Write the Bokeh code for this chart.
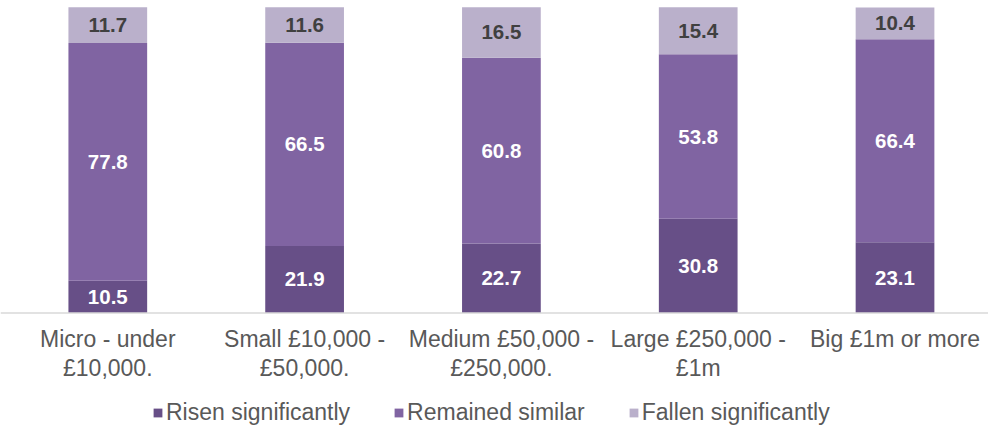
from bokeh.plotting import figure
from bokeh.models import ColumnDataSource, Range1d, Span, Legend, LegendItem
from bokeh.core.properties import value
from bokeh.embed import file_html
from bokeh.resources import INLINE

categories = ["Micro - under\n£10,000.", "Small £10,000 -\n£50,000.",
              "Medium £50,000 -\n£250,000.", "Large £250,000 -\n£1m",
              "Big £1m or more"]
risen = [10.5, 21.9, 22.7, 30.8, 23.1]
remained = [77.8, 66.5, 60.8, 53.8, 66.4]
fallen = [11.7, 11.6, 16.5, 15.4, 10.4]
series_names = ["Risen significantly", "Remained similar", "Fallen significantly"]
colors = ["#674F87", "#8064A2", "#BAB0CB"]
label_colors = ["#FFFFFF", "#FFFFFF", "#404040"]

FONT = "Liberation Sans"

xs = [i + 0.5 for i in range(len(categories))]
source = ColumnDataSource(dict(x=xs, risen=risen, remained=remained, fallen=fallen))

p = figure(width=988, height=431, output_backend="svg", toolbar_location=None,
           x_range=Range1d(-0.0452, 4.975), y_range=Range1d(-38.81, 102.22),
           min_border=0, min_border_left=0, min_border_right=0,
           min_border_top=0, min_border_bottom=0)
p.axis.visible = False
p.grid.visible = False
p.outline_line_color = None
p.background_fill_color = "white"
p.border_fill_color = "white"

renderers = p.vbar_stack(["risen", "remained", "fallen"], x="x", width=0.4,
                         color=colors, line_color=None, source=source)

# baseline axis line
p.add_layout(Span(location=0, dimension="width", line_color="#D9D9D9", line_width=1.5))

# value labels
stack = [risen, remained, fallen]
bottoms = [0.0] * len(categories)
for vals, tc in zip(stack, label_colors):
    mids = [b + v / 2 for b, v in zip(bottoms, vals)]
    texts = ["%.1f" % v for v in vals]
    p.text(x=xs, y=mids, text=texts, text_align="center", text_baseline="middle",
           text_font=value(FONT), text_font_style="bold", text_font_size="20.5px",
           text_color=tc)
    bottoms = [b + v for b, v in zip(bottoms, vals)]

# category labels
p.text(x=xs, y=[-4.45] * len(categories), text=categories, text_align="center",
       text_baseline="top", text_font=value(FONT), text_font_size="23px",
       text_color="#595959", text_line_height=1.1)

legend = Legend(items=[LegendItem(label=n, renderers=[r]) for n, r in zip(series_names, renderers)],
                orientation="horizontal", location=(152, 5),
                padding=0, margin=0, spacing=43, label_standoff=3,
                glyph_width=11, glyph_height=11, label_height=23,
                label_text_font=FONT, label_text_font_size="23px",
                label_text_color="#595959",
                border_line_color=None, background_fill_alpha=0)
p.add_layout(legend)

open("out.html", "w").write(file_html(p, INLINE))
